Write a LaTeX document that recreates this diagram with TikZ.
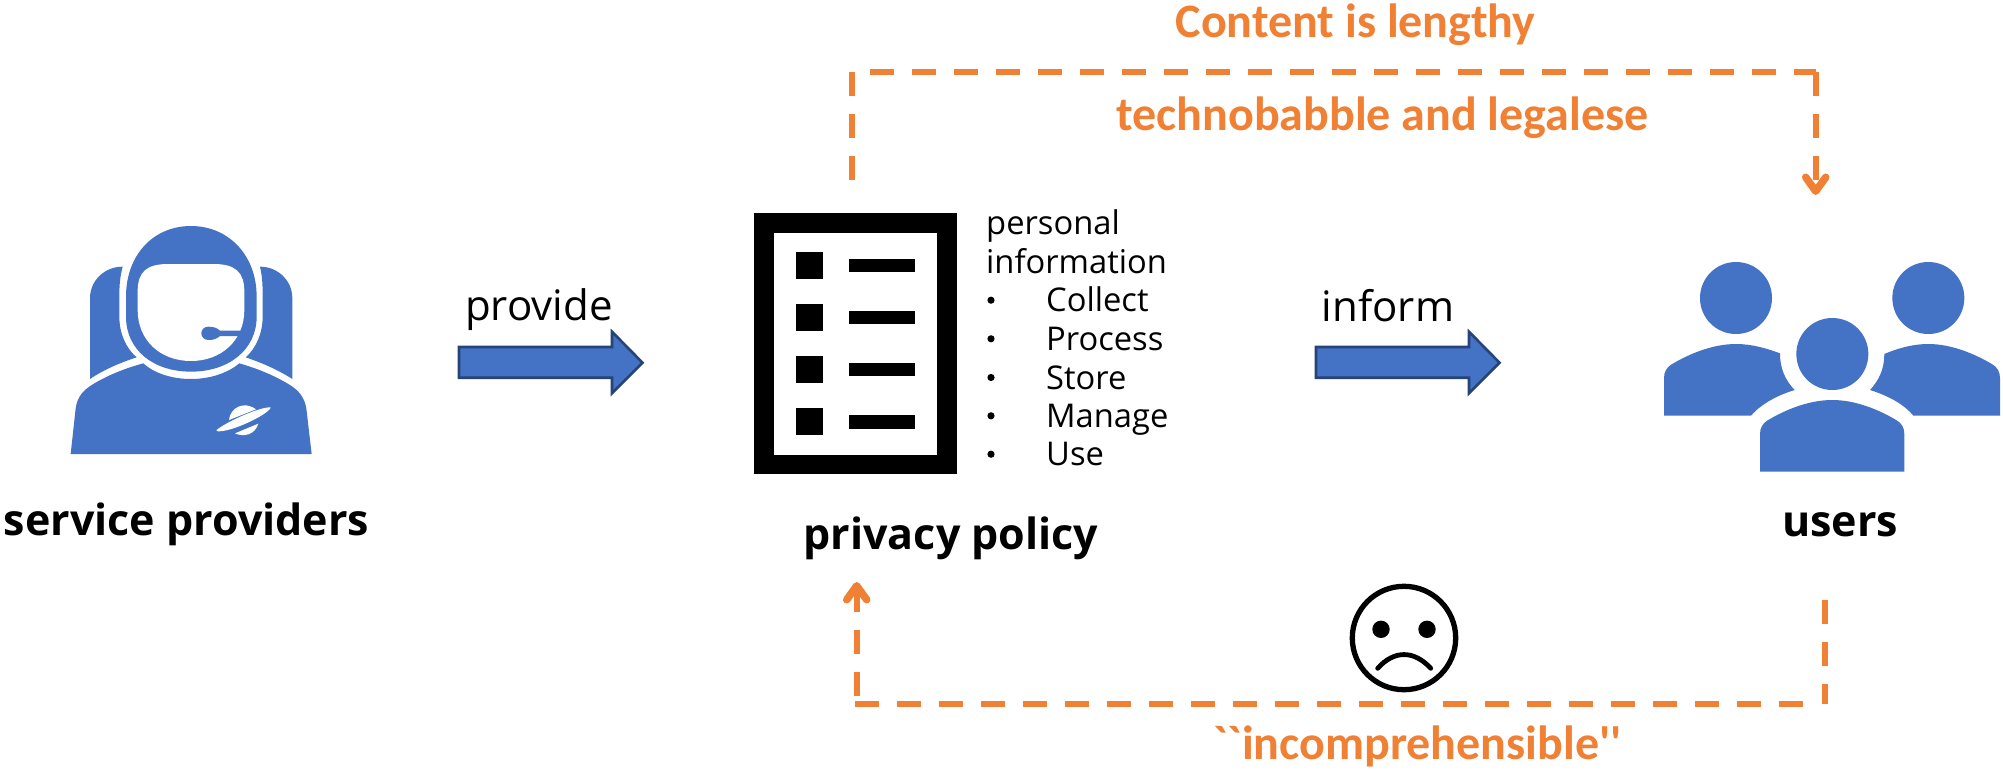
\documentclass[tikz,border=0pt]{standalone}
\usepackage{fontspec}
\usetikzlibrary{arrows.meta}
\newfontfamily\reg{Open Sans}
\newfontfamily\bld{Open Sans}[BoldFont={Open Sans Bold}]
\newfontfamily\warnf{Carlito}[BoldFont={Carlito Bold}]
\definecolor{iconblue}{HTML}{4472C4}
\definecolor{arrowedge}{HTML}{264478}
\definecolor{warn}{HTML}{F08033}
\newcommand{\fs}[1]{\fontsize{#1}{#1}\selectfont}
\tikzset{
  x=1pt,y=-1pt,
  lbl/.style={inner sep=0pt,anchor=base,font=\bld\bfseries\fs{43}},
  warnlbl/.style={inner sep=0pt,anchor=base,text=warn,font=\warnf\bfseries\fs{48}},
  body/.style={inner sep=0pt,anchor=base west,font=\reg\fs{32.7}},
  armtext/.style={inner sep=0pt,anchor=base,font=\reg\fs{42}},
  blockarrow/.style={fill=iconblue,draw=arrowedge,line width=2.6pt,miter limit=10},
  dashline/.style={draw=warn,line width=6pt,dash pattern=on 24pt off 18pt},
  warnarrow/.style={dashline,-{Straight Barb[length=14pt,width=20pt,round,line width=7.5pt]}},
  icon/.style={fill=iconblue,draw=none},
  cut/.style={fill=white,draw=none},
  px/.style={x=0.33333pt,y=-0.33333pt}
}
\begin{document}
\begin{tikzpicture}
\useasboundingbox (0,0) rectangle (2003,774);
\fill[white] (0,0) rectangle (2003,774);

% astronaut
\begin{scope}[shift={(40pt,-200pt)},px]
  \fill[icon] (150,537) -- (150,295) .. controls (150,240) and (195,200) .. (248,200)
    .. controls (240,230) and (238,255) .. (238,290) -- (238,350) .. controls (238,400) and (258,445) .. (290,472)
    .. controls (240,488) and (190,510) .. (150,537) -- cycle;
  \fill[icon] (757,537) -- (757,295) .. controls (757,240) and (712,200) .. (660,200)
    .. controls (667,230) and (668,255) .. (668,290) -- (668,350) .. controls (668,400) and (648,445) .. (617,472)
    .. controls (665,488) and (715,510) .. (757,537) -- cycle;
  \fill[icon] (92,762) -- (107,625) .. controls (112,590) and (130,570) .. (160,552)
    .. controls (205,525) and (255,505) .. (310,490)
    .. controls (345,522) and (400,537) .. (453,537) .. controls (505,537) and (560,522) .. (598,490)
    .. controls (650,505) and (700,525) .. (745,552) .. controls (775,570) and (793,590) .. (799,625)
    -- (815,762) -- cycle;
  \fill[icon] (453,78) .. controls (340,78) and (258,165) .. (258,290) -- (258,350)
    .. controls (258,450) and (340,515) .. (453,515) .. controls (565,515) and (650,450) .. (650,350)
    -- (650,290) .. controls (650,165) and (565,78) .. (453,78) -- cycle;
  \fill[cut] (293,275) .. controls (293,215) and (320,192) .. (385,192) -- (520,192)
    .. controls (585,192) and (613,215) .. (613,275) -- (613,330)
    .. controls (613,420) and (545,483) .. (453,483) .. controls (360,483) and (293,420) .. (293,330) -- cycle;
  \fill[icon] (615,392) -- (540,392) .. controls (530,383) and (520,380) .. (505,380)
    .. controls (492,380) and (484,390) .. (484,400) .. controls (484,410) and (492,420) .. (505,420)
    .. controls (520,420) and (530,417) .. (540,408) -- (605,408) -- cycle;
  \fill[cut] (530,690) .. controls (560,665) and (660,620) .. (692,622)
    .. controls (690,640) and (580,695) .. (535,694) .. controls (530,694) and (529,692) .. (530,690) -- cycle;
  \fill[cut] (567,660) .. controls (570,625) and (610,600) .. (648,628) -- cycle;
  \fill[cut] (585,700) .. controls (610,712) and (645,705) .. (655,671) -- cycle;
\end{scope}

% document
\begin{scope}
  \fill[black] (754.3,213.3) rectangle (956.7,474);
  \fill[white] (774,232.7) rectangle (937,454.7);
  \foreach \yy in {252,304,356,408} \fill[black] (796,\yy) rectangle (823,\yy+27);
  \foreach \yy in {258.7,310.7,362.7} \fill[black] (849,\yy) rectangle (914.5,\yy+13.3);
  \fill[black] (849,415) rectangle (915,429);
\end{scope}

% users
\begin{scope}[shift={(1640pt,-240pt)},px]
  \fill[icon] (288,66) .. controls (348,66) and (396,114) .. (396,174) .. controls (396,234) and (348,282) .. (288,282)
     .. controls (228,282) and (180,234) .. (180,174) .. controls (180,114) and (228,66) .. (288,66) -- cycle;
  \fill[icon] (865,66) .. controls (925,66) and (973,114) .. (973,174) .. controls (973,234) and (925,282) .. (865,282)
     .. controls (805,282) and (757,234) .. (757,174) .. controls (757,114) and (805,66) .. (865,66) -- cycle;
  \fill[icon] (577,234) .. controls (637,234) and (685,282) .. (685,342) .. controls (685,402) and (637,450) .. (577,450)
     .. controls (517,450) and (469,402) .. (469,342) .. controls (469,282) and (517,234) .. (577,234) -- cycle;
  \fill[icon] (72,527) -- (72,415) .. controls (72,395) and (80,382) .. (95,373)
     .. controls (150,340) and (220,312) .. (288,312) .. controls (335,312) and (380,325) .. (420,340)
     .. controls (420,385) and (435,420) .. (464,450) .. controls (415,465) and (365,490) .. (333,527) -- cycle;
  \fill[icon] (1080,527) -- (1080,415) .. controls (1080,395) and (1072,382) .. (1057,373)
     .. controls (1002,340) and (932,312) .. (865,312) .. controls (818,312) and (773,325) .. (733,342)
     .. controls (733,385) and (718,420) .. (690,450) .. controls (738,465) and (790,490) .. (820,527) -- cycle;
  \fill[icon] (360,695) -- (360,583) .. controls (360,563) and (368,550) .. (383,541)
     .. controls (438,508) and (508,480) .. (577,480) .. controls (645,480) and (715,508) .. (770,541)
     .. controls (785,550) and (793,563) .. (793,583) -- (793,695) -- cycle;
\end{scope}

% sad face
\draw[black,line width=5.3pt] (1404,638) circle[radius=51.7];
\fill[black] (1381,629.3) circle[radius=8.7];
\fill[black] (1427,629.3) circle[radius=8.7];
\draw[black,line width=4.8pt,line cap=round] (1377.7,668.3) .. controls (1394,650) and (1414,650) .. (1430.7,668.3);

% block arrows
\draw[blockarrow] (459,347) -- (612,347) -- (612,331.7) -- (642.5,362.7) -- (612,393.3) -- (612,377.7) -- (459,377.7) -- cycle;
\draw[blockarrow] (1316,347) -- (1469,347) -- (1469,331.7) -- (1499.5,362.7) -- (1469,393.3) -- (1469,377.7) -- (1316,377.7) -- cycle;

% dashed connectors
\coordinate (polTop) at (852.3,179.7);
\coordinate (tl) at (852.3,72);
\coordinate (tr) at (1815.7,72);
\coordinate (usersTop) at (1815.7,195);
\coordinate (usersBot) at (1824.7,600);
\coordinate (br) at (1824.7,704.3);
\coordinate (bl) at (855,704.3);
\coordinate (blv) at (856.7,696);
\coordinate (polBot) at (856.7,582);
\coordinate (brh) at (1803,704.3);
\draw[dashline] (polTop) -- (tl);
\draw[dashline,dash phase=24pt] (tl) -- (tr);
\draw[warnarrow] (tr) -- (usersTop);
\draw[dashline] (usersBot) -- (br);
\draw[dashline] (bl) -- (brh);
\draw[warnarrow] (blv) -- (polBot);

% labels
\node[lbl] (sp) at (186.5,535) {service providers};
\node[lbl] (pp) at (951,549) {privacy policy};
\node[lbl] (us) at (1840,536) {users};
\node[armtext] (prov) at (539,320) {provide};
\node[armtext] (inf) at (1388,321) {inform};
\node[warnlbl] (cl) at (1355.5,37) {Content is lengthy};
\node[warnlbl] (tl2) at (1382.5,130) {technobabble and legalese};
\node[warnlbl] (inc) at (1417.5,759) {``incomprehensible''};

\node[body] (p1) at (986,234.3) {personal};
\node[body] (p2) at (986,273.3) {information};
\foreach \nm/\yy/\tx in {b1/311.7/Collect,b2/350.3/Process,b3/389/Store,b4/427.3/Manage,b5/465.7/Use}{
  \node[body] (\nm) at (1046,\yy) {\tx};
  \fill[black] (991,\yy-11.5) circle[radius=3.6];
}
\end{tikzpicture}
\end{document}
